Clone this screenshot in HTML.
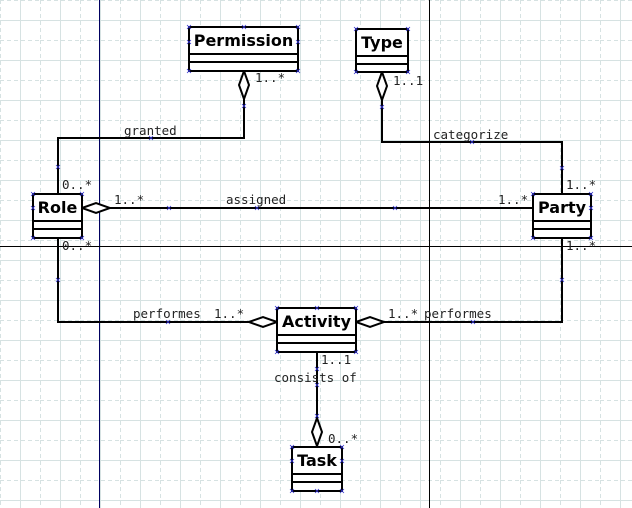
<!DOCTYPE html>
<html><head><style>body{margin:0;background:#fff}svg{display:block}text{font-family:"DejaVu Sans Mono","Liberation Mono",monospace;font-size:12.5px;fill:#222}.b{font-family:"DejaVu Sans","Liberation Sans",sans-serif;font-weight:bold;font-size:16px;fill:#000}</style></head><body>
<svg width="632" height="508" xmlns="http://www.w3.org/2000/svg">
<defs><pattern id="g" width="40" height="40" patternUnits="userSpaceOnUse">
<path d="M20.5 0V40M0 20.5H40" stroke="#d6e2e2" stroke-width="1"/>
<path d="M0.5 0V40M0 0.5H40" stroke="#d6e2e2" stroke-width="1" stroke-dasharray="4 3"/>
</pattern>
<path id="x" d="M-2 -2L2 2M-2 2L2 -2" stroke="#3030d0" stroke-width="0.8"/></defs>
<rect width="632" height="508" fill="url(#g)"/>
<g stroke-width="1"><line x1="99.5" y1="0" x2="99.5" y2="508" stroke="#000060"/><line x1="429.5" y1="0" x2="429.5" y2="508" stroke="#000"/><line x1="0" y1="246.5" x2="632" y2="246.5" stroke="#000"/></g>
<g fill="none" stroke="#000" stroke-width="2">
<path d="M244 99V138H58V193"/>
<path d="M382 100V142H562V193"/>
<path d="M110 208H533"/>
<path d="M58 238V322H249"/>
<path d="M562 238V322H384"/>
<path d="M317 352V418"/>
</g>
<g fill="#fff" stroke="#000" stroke-width="2">
<path d="M244 71L249 85L244 99L239 85Z"/>
<path d="M382 72L387 86L382 100L377 86Z"/>
<path d="M82 208L96 203L110 208L96 213Z"/>
<path d="M277 322L263 317L249 322L263 327Z"/>
<path d="M356 322L370 317L384 322L370 327Z"/>
<path d="M317 446L312 432L317 418L322 432Z"/>
</g>
<g fill="#fff" stroke="#000" stroke-width="2">
<rect x="189" y="27" width="109" height="44"/><path d="M189 54H298M189 62H298"/>
<rect x="356" y="29" width="52" height="43"/><path d="M356 56H408M356 64H408"/>
<rect x="33" y="194" width="49" height="44"/><path d="M33 221H82M33 229H82"/>
<rect x="533" y="194" width="58" height="44"/><path d="M533 221H591M533 229H591"/>
<rect x="277" y="308" width="79" height="44"/><path d="M277 335H356M277 343H356"/>
<rect x="292" y="447" width="50" height="44"/><path d="M292 474H342M292 482H342"/>
</g>
<g>
<use href="#x" x="189" y="27"/><use href="#x" x="244" y="27"/><use href="#x" x="298" y="27"/><use href="#x" x="189" y="42"/><use href="#x" x="298" y="42"/><use href="#x" x="189" y="71"/><use href="#x" x="298" y="71"/><use href="#x" x="244" y="106"/><use href="#x" x="151" y="138"/><use href="#x" x="58" y="167"/>
<use href="#x" x="356" y="29"/><use href="#x" x="408" y="29"/><use href="#x" x="356" y="72"/><use href="#x" x="408" y="72"/><use href="#x" x="382" y="107"/><use href="#x" x="472" y="142"/><use href="#x" x="562" y="168"/>
<use href="#x" x="33" y="194"/><use href="#x" x="82" y="194"/><use href="#x" x="33" y="208"/><use href="#x" x="33" y="238"/><use href="#x" x="82" y="238"/><use href="#x" x="169" y="208"/><use href="#x" x="257" y="208"/><use href="#x" x="395" y="208"/>
<use href="#x" x="533" y="194"/><use href="#x" x="591" y="194"/><use href="#x" x="591" y="208"/><use href="#x" x="533" y="238"/><use href="#x" x="591" y="238"/><use href="#x" x="58" y="280"/><use href="#x" x="562" y="280"/><use href="#x" x="168" y="322"/><use href="#x" x="473" y="322"/>
<use href="#x" x="277" y="308"/><use href="#x" x="317" y="308"/><use href="#x" x="356" y="308"/><use href="#x" x="277" y="352"/><use href="#x" x="356" y="352"/><use href="#x" x="317" y="369"/><use href="#x" x="317" y="385"/><use href="#x" x="317" y="416"/>
<use href="#x" x="292" y="447"/><use href="#x" x="342" y="447"/><use href="#x" x="292" y="461"/><use href="#x" x="342" y="461"/><use href="#x" x="292" y="491"/><use href="#x" x="317" y="491"/><use href="#x" x="342" y="491"/>
</g>
<text class="b" x="243.5" y="46" text-anchor="middle">Permission</text>
<text class="b" x="382" y="48" text-anchor="middle">Type</text>
<text class="b" x="57.5" y="213" text-anchor="middle">Role</text>
<text class="b" x="562" y="213" text-anchor="middle">Party</text>
<text class="b" x="316.5" y="327" text-anchor="middle">Activity</text>
<text class="b" x="317" y="466" text-anchor="middle">Task</text>
<text x="255" y="82">1..*</text>
<text x="393" y="85">1..1</text>
<text x="124" y="135">granted</text>
<text x="433" y="139">categorize</text>
<text x="62" y="189">0..*</text>
<text x="114" y="204">1..*</text>
<text x="226" y="204">assigned</text>
<text x="498" y="204">1..*</text>
<text x="566" y="189">1..*</text>
<text x="62" y="250">0..*</text>
<text x="566" y="250">1..*</text>
<text x="133" y="318">performes</text>
<text x="214" y="318">1..*</text>
<text x="388" y="318">1..*</text>
<text x="424" y="318">performes</text>
<text x="321" y="364">1..1</text>
<text x="274" y="382">consists of</text>
<text x="328" y="443">0..*</text>
</svg>
</body></html>
